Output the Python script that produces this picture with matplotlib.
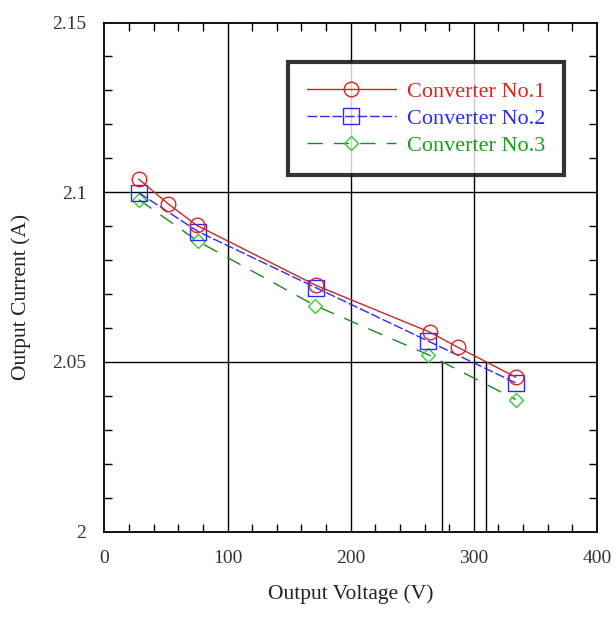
import numpy as np
import matplotlib
matplotlib.use("Agg")
import matplotlib.pyplot as plt
from matplotlib.ticker import MultipleLocator

# ---- data ----
v1 = [28, 52, 75, 172, 264, 287, 334]
i1 = [2.1038, 2.0965, 2.0902, 2.0725, 2.0588, 2.0543, 2.0455]

v2 = [28, 76, 172, 263, 334]
i2 = [2.0998, 2.0884, 2.0718, 2.0561, 2.0438]

v3 = [28, 76, 171, 263, 334]
i3 = [2.0978, 2.0855, 2.0666, 2.0521, 2.0389]

labels = ["Converter No.1", "Converter No.2", "Converter No.3"]
colors = ["#e02222", "#2a2aff", "#14a014"]
ref_current = 2.05

plt.rcParams['font.family'] = ['Liberation Serif', 'DejaVu Serif']

fig = plt.figure(figsize=(6.16, 6.20), dpi=100)
ax = fig.add_axes([0.1696, 0.1427, 0.7995, 0.8210])

ax.set_xlim(0, 400)
ax.set_ylim(2.0, 2.15)

# grid
for gx in [100, 200, 300]:
    ax.axvline(gx, color='black', lw=1.0, zorder=1)
for gy in [2.05, 2.1]:
    ax.axhline(gy, color='black', lw=1.0, zorder=1)

# drop lines where series 1 and 3 cross the reference current
for v, i in [(v1, i1), (v3, i3)]:
    xc = np.interp(ref_current, i[::-1], v[::-1])
    ax.plot([xc, xc], [2.0, ref_current], color='black', lw=1.0, zorder=1)

ax.plot(v1, i1, color="#c02a2a", lw=1.0, marker='o', ms=10.5, mfc='none',
        mec=colors[0], mew=1.0, label=labels[0], zorder=4)
ax.plot(v2, i2, color=colors[1], lw=1.0, dashes=(7, 2), marker='s', ms=11,
        mfc='none', mec=colors[1], mew=1.0, label=labels[1], zorder=3)
ax.plot(v3, i3, color="#1a8a1a", lw=1.0, dashes=(11, 8), marker='D', ms=7.5,
        mfc='none', mec="#33cc33", mew=1.0, label=labels[2], zorder=2)

ax.xaxis.set_minor_locator(MultipleLocator(20))
ax.yaxis.set_minor_locator(MultipleLocator(0.01))
ax.set_xticks([0, 100, 200, 300, 400])
ax.set_xticklabels(["0", "100", "200", "300", "400"])
ax.set_yticks([2.0, 2.05, 2.1, 2.15])
ax.set_yticklabels(["2", "2.05", "2.1", "2.15"])

ax.tick_params(which='both', direction='in', top=True, right=True,
               colors='black', labelcolor='#333333')
ax.tick_params(which='major', length=0, pad=13, labelsize=14)
ax.tick_params(which='minor', length=6, width=1.0)
for s in ax.spines.values():
    s.set_linewidth(1.3)

ax.set_xlabel("Output Voltage (V)", fontsize=15.5, color='#222222', labelpad=13)
ax.set_ylabel("Output Current (A)", fontsize=15.5, color='#222222', labelpad=14)
ax.yaxis.set_label_coords(-0.15, 0.46)

leg = ax.legend(loc='upper left', bbox_to_anchor=(0.3726, 0.9218),
                fontsize=16, frameon=True, fancybox=False, handlelength=4.0,
                borderpad=0.85, labelspacing=0.3, handletextpad=0.5,
                borderaxespad=0)
leg.get_frame().set_edgecolor('black')
leg.get_frame().set_linewidth(3.0)
for t, c in zip(leg.get_texts(), colors):
    t.set_color(c)

fig.savefig("out.png", dpi=100)
